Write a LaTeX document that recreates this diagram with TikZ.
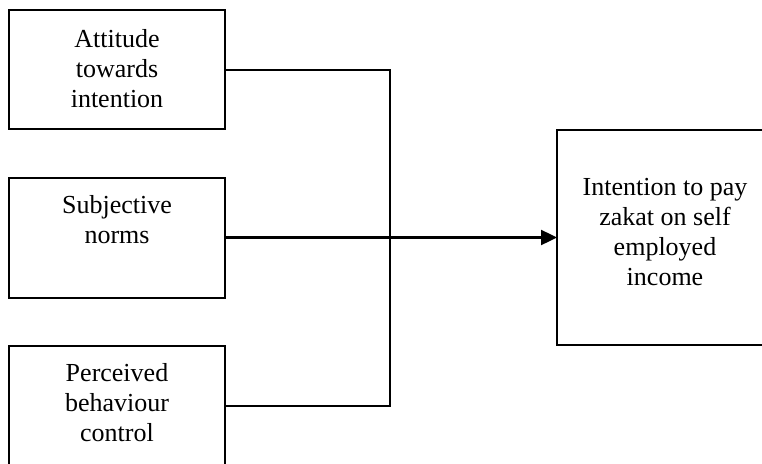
\documentclass[tikz,border=0pt]{standalone}
\usepackage{fontspec}
\setmainfont{Liberation Serif}
\usetikzlibrary{arrows.meta}
\begin{document}
\begin{tikzpicture}[x=1pt,y=-1pt,
  box/.style={draw=black, line width=2pt, minimum width=216pt, inner sep=0pt, outer sep=0pt},
  lbl/.style={align=center, inner sep=0pt, anchor=north, font=\fontsize{26}{30}\selectfont},
  conn/.style={draw=black, line width=2pt},
  arr/.style={draw=black, line width=2.4pt, -{Triangle[length=16pt,width=15pt]}}]
\useasboundingbox (0,0) rectangle (762,463);
\clip (0,0) rectangle (762,463);
\node[box, minimum height=119pt] (b1) at (117,69.5) {};
\node[box, minimum height=120pt] (b2) at (117,237.5) {};
\node[box, minimum height=120pt] (b3) at (117,406) {};
\node[box, minimum height=215pt] (b4) at (665,237.5) {};
\node[lbl] (t1) at (117,29.5) {Attitude\\towards\\intention};
\node[lbl] (t2) at (117,195.5) {Subjective\\norms};
\node[lbl] (t3) at (117,363.5) {Perceived\\behaviour\\control};
\node[lbl] (t4) at (665,178) {Intention to pay\\zakat on self\\employed\\income};
\coordinate (j1) at (390,69.5);
\coordinate (j3) at (390,406);
\draw[conn] (b1.east) -- (j1) -- (j3) -- (b3.east);
\draw[arr] (b2.east) -- (b4.west);
\end{tikzpicture}
\end{document}
